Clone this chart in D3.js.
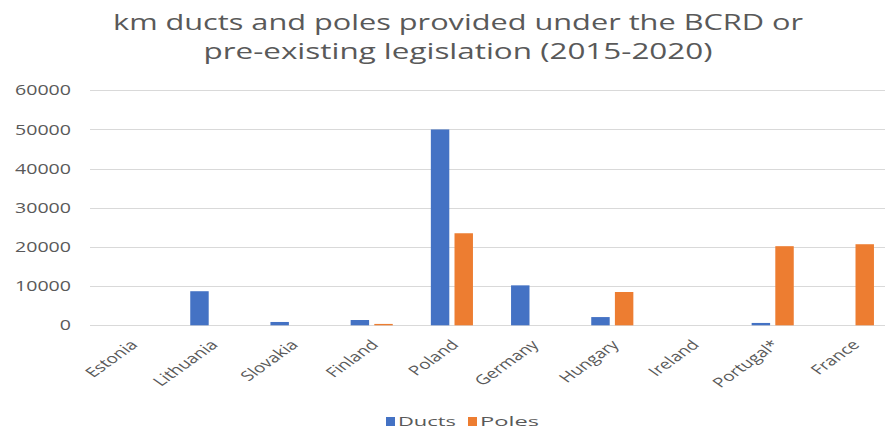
<!DOCTYPE html>
<html><head><meta charset="utf-8">
<script src="https://cdn.jsdelivr.net/npm/d3@7"></script>
<style>body{margin:0;background:#fff;} svg{display:block;}</style>
</head><body>
<svg id="chart" width="885" height="430"></svg>
<script>
const categories = ["Estonia","Lithuania","Slovakia","Finland","Poland","Germany","Hungary","Ireland","Portugal*","France"];
const ducts = [0, 8700, 850, 1350, 50000, 10200, 2100, 0, 600, 0];
const poles = [0, 0, 0, 350, 23500, 0, 8500, 0, 20200, 20700];
const seriesNames = ["Ducts","Poles"];
const colors = ["#4472C4","#ED7D31"];
const yTicks = [0,10000,20000,30000,40000,50000,60000];
const titleLines = ["km ducts and poles provided under the BCRD or","pre-existing legislation (2015-2020)"];

const svg = d3.select("#chart");
const font = "'Open Sans', 'Liberation Sans', sans-serif";
const textColor = "#595959";
const stretch = 1.4;

const x0 = d3.scaleBand().domain(categories).range([91, 893]).paddingInner(0.475).paddingOuter(0.2375);
const x1 = d3.scaleBand().domain(seriesNames).range([0, x0.bandwidth()]).paddingInner(0.22);
const y = d3.scaleLinear().domain([0, 60000]).range([325.3, 90.3]);

// gridlines
svg.append("g").selectAll("line").data(yTicks).join("line")
  .attr("x1", 90).attr("x2", 885)
  .attr("y1", d => Math.round(y(d)) + 0.5).attr("y2", d => Math.round(y(d)) + 0.5)
  .attr("stroke", "#d9d9d9").attr("stroke-width", 1.2);

// y axis labels
const yg = svg.append("g");
yg.selectAll("text").data(yTicks).join("text")
  .attr("transform", d => `translate(71,${y(d)}) scale(${stretch},1)`)
  .attr("text-anchor", "end").attr("dy", "0.36em")
  .attr("fill", textColor).style("font-family", font).style("font-size", "14px")
  .text(d3.format("d"));

// bars
const rows = categories.map((c, i) => ({cat: c, vals: [ducts[i], poles[i]]}));
const groups = svg.append("g").selectAll("g").data(rows).join("g")
  .attr("transform", d => `translate(${x0(d.cat)},0)`);
groups.selectAll("rect").data(d => d.vals.map((v, j) => ({s: seriesNames[j], v, j})))
  .join("rect")
  .attr("x", d => x1(d.s)).attr("width", x1.bandwidth())
  .attr("y", d => y(d.v)).attr("height", d => y(0) - y(d.v))
  .attr("fill", d => colors[d.j]);

// x axis labels
const xg = svg.append("g").attr("transform", `translate(0,${y(0)})`);
xg.selectAll("text").data(categories).join("text")
  .attr("transform", d => `translate(${x0(d) + x0.bandwidth()/2 + 3},17) scale(${stretch},1) rotate(-45)`)
  .attr("text-anchor", "end")
  .attr("dy", "0.35em")
  .attr("fill", textColor).style("font-family", font).style("font-size", "13.5px")
  .text(d => d);

// title
const titleWidths = [690, 509];
svg.append("g").selectAll("text").data(titleLines).join("text")
  .attr("x", 458).attr("y", (d, i) => 30 + i * 29)
  .attr("text-anchor", "middle")
  .attr("textLength", (d, i) => titleWidths[i]).attr("lengthAdjust", "spacingAndGlyphs")
  .attr("fill", textColor).style("font-family", font).style("font-size", "22px")
  .text(d => d);

// legend
const legendItems = [{n: "Ducts", c: colors[0], x: 386, w: 58}, {n: "Poles", c: colors[1], x: 468, w: 59}];
const lg = svg.append("g").selectAll("g").data(legendItems).join("g")
  .attr("transform", d => `translate(${d.x},417)`);
lg.append("rect").attr("width", 9).attr("height", 9).attr("fill", d => d.c);
lg.append("text").attr("x", 12).attr("y", 4.5).attr("dy", "0.36em")
  .attr("textLength", d => d.w).attr("lengthAdjust", "spacingAndGlyphs")
  .attr("fill", textColor).style("font-family", font).style("font-size", "13px")
  .text(d => d.n);
</script>
</body></html>
